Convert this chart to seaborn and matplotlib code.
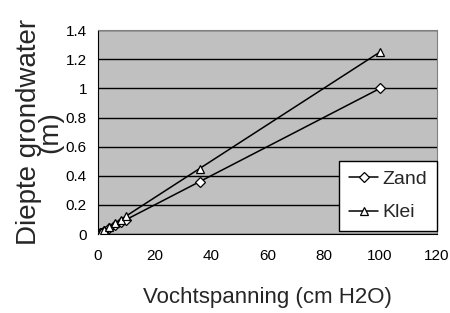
import pandas as pd
import matplotlib
matplotlib.use("Agg")
import matplotlib.pyplot as plt
import seaborn as sns

# Meetpunten
vochtspanning = [0.1, 0.5, 1, 2, 4, 6, 8, 10, 36, 100]
zand = [0.001, 0.005, 0.01, 0.02, 0.04, 0.06, 0.08, 0.10, 0.36, 1.00]
klei = [0.00125, 0.00625, 0.0125, 0.025, 0.05, 0.075, 0.10, 0.125, 0.45, 1.25]
series = ["Zand", "Klei"]
markers = {"Zand": "D", "Klei": "^"}
xticks = [0, 20, 40, 60, 80, 100, 120]
yticks = [0, 0.2, 0.4, 0.6, 0.8, 1, 1.2, 1.4]
ytick_labels = ["0", "0.2", "0.4", "0.6", "0.8", "1", "1.2", "1.4"]

sns.set_style("white")
plt.rcParams["font.family"] = ["Liberation Sans", "DejaVu Sans"]

df = pd.DataFrame({
    "x": vochtspanning * 2,
    "y": zand + klei,
    "grond": ["Zand"] * len(zand) + ["Klei"] * len(klei),
})

fig = plt.figure(figsize=(4.5, 3.13), dpi=100)
ax = fig.add_axes([0.218, 0.252, 0.752, 0.652])
ax.set_facecolor("#c0c0c0")

for s in series:
    sub = df[df["grond"] == s]
    sns.lineplot(data=sub, x="x", y="y", ax=ax, color="black", linewidth=1.1,
                 marker=markers[s], markersize=6 if s == "Klei" else 5,
                 markerfacecolor="white", markeredgecolor="black",
                 markeredgewidth=0.9, label=s, zorder=3)

ax.set_xlim(0, 120)
ax.set_ylim(0, 1.4)
ax.set_xticks(xticks)
ax.set_yticks(yticks)
ax.set_yticklabels(ytick_labels)
ax.tick_params(axis="both", direction="out", length=4, width=1, colors="black",
               labelsize=11, pad=4)
ax.tick_params(axis="x", pad=7)
ax.yaxis.grid(True, color="black", linewidth=1)
ax.set_axisbelow(True)

for side in ["top", "right"]:
    ax.spines[side].set_color("#808080")
for side in ["left", "bottom"]:
    ax.spines[side].set_color("black")

ax.set_xlabel("Vochtspanning (cm H2O)", fontsize=16, labelpad=17)
ax.set_ylabel("Diepte grondwater\n(m)", fontsize=20, labelpad=2, linespacing=0.75)

leg = ax.legend(loc="lower right", bbox_to_anchor=(1.0, 0.015), fontsize=14,
                frameon=True, fancybox=False, framealpha=1, edgecolor="black",
                handlelength=1.5, handletextpad=0.2, borderpad=0.5,
                labelspacing=0.8, borderaxespad=0)
leg.get_frame().set_linewidth(1)

fig.savefig("out.png", dpi=100)
